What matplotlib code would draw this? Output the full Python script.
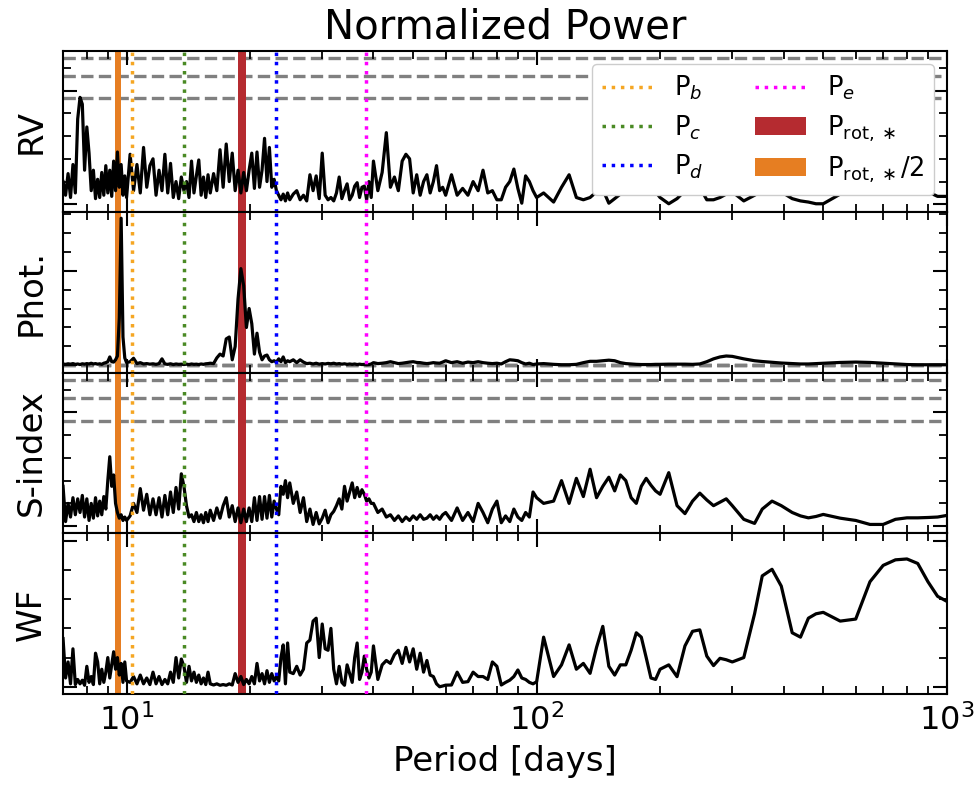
import numpy as np
import matplotlib.pyplot as plt
from matplotlib.ticker import MultipleLocator

# Period grid [days] shared by all periodograms
period = [7.0, 7.1, 7.2, 7.3, 7.4, 7.5, 7.6, 7.7, 7.8, 7.9,
          8.0, 8.1, 8.2, 8.3, 8.4, 8.5, 8.6, 8.7, 8.8, 8.9,
          9.0, 9.1, 9.2, 9.3, 9.4, 9.5, 9.6, 9.7, 9.8, 9.9,
          10.0, 10.2, 10.4, 10.6, 10.8, 11.0, 11.2, 11.4, 11.6, 11.8,
          12.0, 12.2, 12.4, 12.6, 12.8, 13.0, 13.2, 13.4, 13.6, 13.8,
          14.0, 14.2, 14.4, 14.6, 14.8, 15.0, 15.2, 15.4, 15.6, 15.8,
          16.0, 16.3, 16.6, 16.9, 17.2, 17.5, 17.8, 18.1, 18.4, 18.7,
          19.0, 19.3, 19.6, 19.9, 20.2, 20.5, 20.8, 21.1, 21.4, 21.7,
          22.0, 22.3, 22.6, 22.9, 23.2, 23.5, 23.8, 24.1, 24.4, 24.7,
          25.0, 25.5, 26.0, 26.5, 27.0, 27.5, 28.0, 28.5, 29.0, 29.5,
          30.0, 30.5, 31.0, 31.5, 32.0, 32.5, 33.0, 33.5, 34.0, 34.5,
          35.0, 35.5, 36.0, 36.5, 37.0, 37.5, 38.0, 38.5, 39.0, 39.5,
          40, 41, 42, 43, 44, 45, 46, 47, 48, 49,
          50, 51, 52, 53, 54, 55, 56, 57, 58, 59,
          60, 62, 64, 66, 68, 70, 72, 74, 76, 78,
          80, 82, 84, 86, 88, 90, 92, 94, 96, 98,
          100, 104, 110, 115, 120, 125, 130, 135, 140, 145,
          150, 155, 160, 165, 170, 175, 180, 185, 190, 195,
          200, 210, 220, 230, 240, 250, 260, 270, 280, 290,
          300, 320, 340, 355, 375, 395, 420, 440, 460, 480,
          500, 550, 600, 650, 700, 750, 800, 850, 900, 950, 1000]

rv_power = [0.020, 0.008, 0.027, 0.006, 0.035, 0.010, 0.075, 0.094, 0.088, 0.030,
            0.068, 0.045, 0.012, 0.030, 0.005, 0.022, 0.006, 0.028, 0.008, 0.034,
            0.010, 0.030, 0.007, 0.038, 0.012, 0.046, 0.015, 0.035, 0.008, 0.025,
            0.006, 0.044, 0.012, 0.035, 0.010, 0.050, 0.015, 0.034, 0.040, 0.008,
            0.030, 0.012, 0.044, 0.010, 0.036, 0.006, 0.020, 0.005, 0.024, 0.012,
            0.020, 0.006, 0.038, 0.010, 0.025, 0.039, 0.008, 0.024, 0.006, 0.026,
            0.010, 0.027, 0.012, 0.048, 0.015, 0.053, 0.020, 0.045, 0.012, 0.030,
            0.010, 0.028, 0.012, 0.030, 0.045, 0.014, 0.046, 0.015, 0.030, 0.058,
            0.020, 0.050, 0.015, 0.022, 0.012, 0.008, 0.004, 0.009, 0.003, 0.010,
            0.004, 0.009, 0.012, 0.004, 0.008, 0.003, 0.026, 0.012, 0.025, 0.005,
            0.045, 0.008, 0.004, 0.006, 0.003, 0.010, 0.024, 0.005, 0.012, 0.018,
            0.004, 0.008, 0.016, 0.019, 0.006, 0.015, 0.016, 0.004, 0.020, 0.006,
            0.038, 0.012, 0.028, 0.063, 0.015, 0.024, 0.012, 0.038, 0.044, 0.040,
            0.010, 0.026, 0.008, 0.020, 0.026, 0.010, 0.020, 0.034, 0.012, 0.015,
            0.008, 0.026, 0.008, 0.014, 0.008, 0.020, 0.012, 0.030, 0.010, 0.012,
            0.004, 0.004, 0.015, 0.020, 0.031, 0.014, 0.001, 0.025, 0.020, 0.012,
            0.006, 0.010, 0.002, 0.015, 0.026, 0.006, 0.004, 0.006, 0.011, 0.013,
            0.001, 0.005, 0.009, 0.012, 0.010, 0.013, 0.020, 0.025, 0.018, 0.011,
            0.006, 0.0005, 0.005, 0.012, 0.020, 0.015, 0.004, 0.004, 0.006, 0.009,
            0.011, 0.003, 0.008, 0.012, 0.014, 0.011, 0.005, 0.003, 0.002, 0.0005,
            0.0005, 0.009, 0.020, 0.026, 0.018, 0.024, 0.028, 0.020, 0.011, 0.007, 0.007]

phot_power = [0.008, 0.006, 0.009, 0.007, 0.010, 0.006, 0.008, 0.005, 0.009, 0.007,
              0.010, 0.008, 0.012, 0.008, 0.010, 0.007, 0.009, 0.006, 0.012, 0.015,
              0.020, 0.045, 0.020, 0.018, 0.030, 0.050, 0.250, 0.775, 0.150, 0.040,
              0.015, 0.020, 0.038, 0.010, 0.015, 0.008, 0.010, 0.007, 0.009, 0.006,
              0.010, 0.035, 0.008, 0.006, 0.009, 0.005, 0.008, 0.006, 0.007, 0.005,
              0.007, 0.005, 0.008, 0.006, 0.007, 0.005, 0.008, 0.006, 0.009, 0.010,
              0.012, 0.010, 0.040, 0.060, 0.050, 0.140, 0.150, 0.030, 0.100, 0.350,
              0.510, 0.420, 0.200, 0.300, 0.220, 0.060, 0.170, 0.070, 0.030, 0.050,
              0.055, 0.030, 0.020, 0.025, 0.018, 0.035, 0.020, 0.045, 0.015, 0.025,
              0.020, 0.030, 0.015, 0.030, 0.018, 0.010, 0.012, 0.008, 0.012, 0.007,
              0.010, 0.008, 0.011, 0.009, 0.012, 0.008, 0.010, 0.007, 0.009, 0.006,
              0.008, 0.006, 0.008, 0.005, 0.007, 0.005, 0.006, 0.004, 0.005, 0.008,
              0.015, 0.010, 0.012, 0.015, 0.020, 0.015, 0.010, 0.012, 0.015, 0.018,
              0.020, 0.016, 0.015, 0.012, 0.010, 0.012, 0.015, 0.013, 0.012, 0.018,
              0.025, 0.015, 0.020, 0.012, 0.018, 0.015, 0.020, 0.015, 0.012, 0.010,
              0.012, 0.008, 0.020, 0.030, 0.028, 0.025, 0.015, 0.008, 0.012, 0.005,
              0.008, 0.010, 0.006, 0.004, 0.004, 0.006, 0.015, 0.022, 0.022, 0.025,
              0.028, 0.025, 0.015, 0.010, 0.008, 0.006, 0.005, 0.005, 0.005, 0.006,
              0.006, 0.007, 0.007, 0.007, 0.006, 0.008, 0.020, 0.035, 0.045, 0.050,
              0.048, 0.035, 0.025, 0.021, 0.017, 0.013, 0.010, 0.008, 0.008, 0.010,
              0.012, 0.016, 0.018, 0.016, 0.012, 0.008, 0.005, 0.004, 0.004, 0.004, 0.004]

sindex_power = [0.035, 0.004, 0.020, 0.008, 0.025, 0.010, 0.024, 0.012, 0.027, 0.008,
                0.024, 0.005, 0.020, 0.007, 0.025, 0.009, 0.022, 0.010, 0.026, 0.015,
                0.040, 0.061, 0.035, 0.045, 0.020, 0.012, 0.007, 0.010, 0.005, 0.008,
                0.005, 0.009, 0.020, 0.012, 0.033, 0.014, 0.028, 0.010, 0.024, 0.010,
                0.025, 0.008, 0.027, 0.010, 0.030, 0.012, 0.034, 0.015, 0.046, 0.035,
                0.018, 0.008, 0.010, 0.004, 0.012, 0.004, 0.010, 0.003, 0.012, 0.004,
                0.014, 0.005, 0.016, 0.007, 0.018, 0.025, 0.008, 0.018, 0.004, 0.016,
                0.003, 0.015, 0.004, 0.016, 0.004, 0.025, 0.005, 0.026, 0.006, 0.026,
                0.007, 0.027, 0.008, 0.022, 0.015, 0.010, 0.035, 0.028, 0.040, 0.025,
                0.038, 0.020, 0.030, 0.012, 0.025, 0.004, 0.015, 0.0015, 0.012, 0.002,
                0.007, 0.014, 0.003, 0.010, 0.013, 0.018, 0.024, 0.015, 0.035, 0.022,
                0.030, 0.038, 0.025, 0.034, 0.026, 0.032, 0.028, 0.022, 0.024, 0.020,
                0.020, 0.012, 0.015, 0.008, 0.010, 0.005, 0.009, 0.004, 0.008, 0.005,
                0.009, 0.006, 0.010, 0.006, 0.007, 0.010, 0.006, 0.009, 0.006, 0.010,
                0.012, 0.005, 0.016, 0.005, 0.012, 0.004, 0.020, 0.012, 0.003, 0.015,
                0.022, 0.003, 0.009, 0.004, 0.015, 0.008, 0.005, 0.012, 0.008, 0.030,
                0.025, 0.020, 0.022, 0.040, 0.020, 0.042, 0.026, 0.050, 0.025, 0.035,
                0.043, 0.031, 0.045, 0.040, 0.025, 0.020, 0.035, 0.042, 0.036, 0.031,
                0.028, 0.047, 0.018, 0.011, 0.022, 0.029, 0.023, 0.018, 0.021, 0.024,
                0.018, 0.006, 0.0024, 0.015, 0.022, 0.018, 0.012, 0.009, 0.0073, 0.0085,
                0.0103, 0.007, 0.005, 0.0015, 0.0015, 0.006, 0.0073, 0.0073, 0.0076, 0.008, 0.0094]

wf_power = [0.330, 0.060, 0.170, 0.020, 0.260, 0.015, 0.050, 0.020, 0.045, 0.010,
            0.140, 0.030, 0.070, 0.015, 0.230, 0.170, 0.020, 0.120, 0.030, 0.100,
            0.200, 0.060, 0.150, 0.240, 0.120, 0.200, 0.080, 0.160, 0.030, 0.170,
            0.040, 0.030, 0.070, 0.020, 0.080, 0.020, 0.060, 0.015, 0.100, 0.020,
            0.070, 0.015, 0.050, 0.020, 0.100, 0.030, 0.200, 0.060, 0.190, 0.140,
            0.030, 0.140, 0.040, 0.100, 0.030, 0.080, 0.020, 0.060, 0.015, 0.100,
            0.020, 0.012, 0.020, 0.010, 0.015, 0.010, 0.020, 0.012, 0.090, 0.030,
            0.070, 0.015, 0.050, 0.020, 0.070, 0.020, 0.160, 0.040, 0.090, 0.020,
            0.110, 0.030, 0.090, 0.040, 0.070, 0.040, 0.200, 0.287, 0.020, 0.300,
            0.100, 0.090, 0.140, 0.080, 0.120, 0.300, 0.320, 0.450, 0.470, 0.200,
            0.430, 0.260, 0.250, 0.400, 0.120, 0.020, 0.140, 0.030, 0.010, 0.150,
            0.090, 0.030, 0.200, 0.300, 0.050, 0.100, 0.210, 0.120, 0.060, 0.100,
            0.280, 0.050, 0.150, 0.180, 0.160, 0.220, 0.250, 0.160, 0.270, 0.170,
            0.260, 0.120, 0.230, 0.100, 0.180, 0.080, 0.070, 0.020, 0.000, 0.005,
            0.011, 0.012, 0.100, 0.030, 0.035, 0.100, 0.070, 0.070, 0.050, 0.170,
            0.140, 0.012, 0.030, 0.045, 0.070, 0.115, 0.060, 0.050, 0.030, 0.020,
            0.034, 0.340, 0.070, 0.150, 0.287, 0.120, 0.160, 0.092, 0.270, 0.414,
            0.140, 0.080, 0.150, 0.150, 0.250, 0.370, 0.340, 0.200, 0.060, 0.050,
            0.120, 0.150, 0.069, 0.280, 0.380, 0.390, 0.210, 0.145, 0.195, 0.185,
            0.170, 0.200, 0.500, 0.760, 0.805, 0.690, 0.370, 0.340, 0.470, 0.500,
            0.510, 0.450, 0.464, 0.720, 0.832, 0.870, 0.876, 0.845, 0.720, 0.620, 0.586]

# false alarm probability levels
rv_fap = [0.1287, 0.1130, 0.0933]
phot_fap = [0.0025, 0.0030, 0.0035]
sindex_fap = [0.1287, 0.1126, 0.0927]

# planets and stellar rotation
planet_labels = [r'P$_b$', r'P$_c$', r'P$_d$', r'P$_e$']
planet_periods = [10.32, 13.80, 23.09, 38.28]
planet_colors = ['#f5a623', '#4a8a24', '#0000ff', '#ff00ff']
prot_span = [18.70, 19.55]
prot_half_span = [9.37, 9.71]

panels = [('RV', rv_power, rv_fap, (-0.0064, 0.135), 0.1, 0.02),
          ('Phot.', phot_power, phot_fap, (-0.037, 0.81), 0.5, 0.1),
          ('S-index', sindex_power, sindex_fap, (-0.0064, 0.135), 0.1, 0.02),
          ('WF', wf_power, [], (-0.052, 1.051), 1.0, 0.2)]

fig, axes = plt.subplots(4, 1, figsize=(9.79, 7.85), dpi=100, sharex=True)
fig.subplots_adjust(left=0.0644, right=0.967, top=0.9354, bottom=0.1155, hspace=0)

for i, (name, power, fap, ylim, major, minor) in enumerate(panels):
    ax = axes[i]
    lab = (i == 0)
    for lvl in fap:
        ax.axhline(lvl, color='gray', ls='--', lw=2.4, zorder=1)
    ax.axvspan(prot_span[0], prot_span[1], color='#b52b30', lw=0, zorder=1.5,
               label=r'P$_{\rm rot,\ast}$' if lab else None)
    ax.axvspan(prot_half_span[0], prot_half_span[1], color='#e67e22', lw=0, zorder=1.5,
               label=r'P$_{\rm rot,\ast}$/2' if lab else None)
    ax.plot(period, power, color='black', lw=2.3, zorder=2)
    for p, c, l in zip(planet_periods, planet_colors, planet_labels):
        ax.axvline(p, color=c, ls=':', lw=2.5, zorder=4, label=l if lab else None)

    ax.set_xscale('log')
    ax.set_xlim(7, 1000)
    ax.set_ylim(*ylim)
    ax.yaxis.set_major_locator(MultipleLocator(major))
    ax.yaxis.set_minor_locator(MultipleLocator(minor))
    ax.tick_params(which='both', direction='in', top=True, right=True,
                   labelleft=False, labelsize=23)
    ax.tick_params(axis='x', which='major', pad=7)
    ax.tick_params(which='major', length=10, width=1.5)
    ax.tick_params(which='minor', length=6, width=1.3)
    for s in ax.spines.values():
        s.set_linewidth(1.5)
    ax.set_ylabel(name, fontsize=24.5, labelpad=11)

axes[0].set_title('Normalized Power', fontsize=29, pad=9)
handles, labels = axes[0].get_legend_handles_labels()
order = [labels.index(l) for l in planet_labels] + [0, 1]
axes[0].legend([handles[k] for k in order], [labels[k] for k in order],
               loc='upper right', ncol=2, fontsize=18.5, labelspacing=0.42,
               framealpha=1)
axes[-1].set_xlabel('Period [days]', fontsize=24.5, labelpad=6)
fig.align_ylabels(axes)

plt.savefig('out.png', dpi=100)
